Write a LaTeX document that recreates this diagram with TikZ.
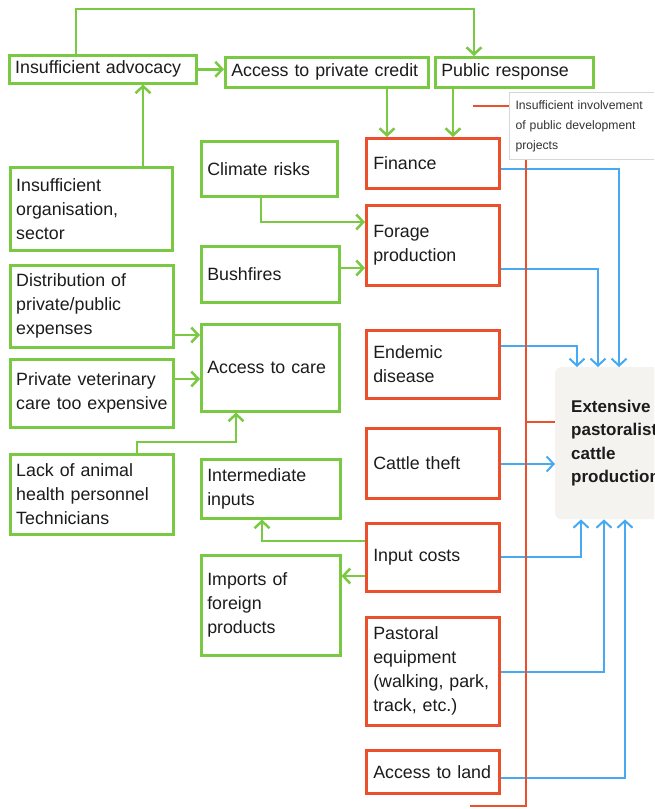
\documentclass[tikz,border=0pt]{standalone}
\usepackage{fontspec}
\setmainfont{Liberation Sans}
\usetikzlibrary{arrows.meta}
\definecolor{grn}{HTML}{7AC943}
\definecolor{org}{HTML}{EB4F2C}
\definecolor{blu}{HTML}{46A9F2}
\definecolor{txt}{HTML}{1C1C1C}
\definecolor{extfill}{HTML}{F4F3F0}
\definecolor{notegray}{HTML}{D6D6D6}
\begin{document}
\begin{tikzpicture}[x=1pt,y=-1pt,
  basebox/.style={anchor=north west, inner xsep=6pt, inner ysep=0pt, align=left,
    font=\fontsize{17.8}{24}\selectfont, text=txt, fill=white, line width=2.5pt,
    execute at begin node={\hyphenpenalty=10000\exhyphenpenalty=10000}},
  gbox/.style={basebox, draw=grn},
  rbox/.style={basebox, draw=org, inner xsep=7pt, text width=119pt},
  garr/.style={draw=grn, line width=2.5pt, -{Straight Barb[length=7pt,width=15pt]}},
  barr/.style={draw=blu, line width=2pt, -{Straight Barb[length=7pt,width=15pt]}},
  oline/.style={draw=org, line width=2.5pt},
]
\useasboundingbox (0,0) rectangle (654,809);
\clip (0,0) rectangle (654,809);

% green boxes
\node[gbox, text width=175pt, minimum height=28pt] (adv) at (8,54) {Insufficient advocacy};
\node[gbox, text width=191pt, minimum height=30pt] (credit) at (224,56) {Access to private credit};
\node[gbox, text width=146pt, minimum height=30pt] (pub) at (434,56) {Public response};
\node[gbox, text width=150pt, minimum height=83pt] (org) at (9,166) {Insufficient\\organisation,\\sector};
\node[gbox, text width=151pt, minimum height=82pt] (dist) at (9,264) {Distribution of\\private/public\\expenses};
\node[gbox, text width=151pt, minimum height=68pt] (vet) at (9,358) {\mbox{Private veterinary}\\\mbox{care too expensive}};
\node[gbox, text width=151pt, minimum height=80pt] (lack) at (9,453) {Lack of animal\\health personnel\\Technicians};
\node[gbox, text width=124pt, minimum height=55pt] (clim) at (200,140) {Climate risks};
\node[gbox, text width=126pt, minimum height=56pt] (bush) at (200,245) {Bushfires};
\node[gbox, text width=126pt, minimum height=87pt] (care) at (200,323) {Access to care};
\node[gbox, text width=127pt, minimum height=59pt] (inter) at (200,458) {Intermediate\\inputs};
\node[gbox, text width=127pt, minimum height=100pt] (imp) at (200,554) {Imports of\\foreign\\products};

% red boxes
\node[rbox, minimum height=50pt] (fin) at (365,137) {Finance};
\node[rbox, minimum height=80pt] (forage) at (365,204) {Forage\\production};
\node[rbox, minimum height=68pt] (endem) at (365,329) {Endemic\\disease};
\node[rbox, minimum height=70pt] (theft) at (365,427) {Cattle theft};
\node[rbox, minimum height=68pt] (input) at (365,522) {Input costs};
\node[rbox, minimum height=108pt] (pastoral) at (365,616) {Pastoral\\equipment\\(walking, park,\\track, etc.)};
\node[rbox, minimum height=43pt] (land) at (365,749) {Access to land};

% central outcome (cut by the right edge, as in the reference)
\node[anchor=north west, fill=extfill, rounded corners=6pt, minimum height=152pt,
  text width=120pt, inner xsep=16pt, inner ysep=0pt, align=left,
  font=\bfseries\fontsize{17}{23.5}\selectfont, text=txt] (ext) at (555,367)
  {Extensive\\pastoralist\\cattle\\production};

% green connectors
\draw[garr] (76,0 |- adv.north) -- (76,9) -- (474,9) -- (474,0 |- pub.north);
\draw[garr] (adv.east) -- (adv.east -| credit.west);
\draw[garr] (143,0 |- org.north) -- (143,0 |- adv.south);
\draw[garr] (387,0 |- credit.south) -- (387,0 |- fin.north);
\draw[garr] (453,0 |- pub.south) -- (453,0 |- fin.north);
\draw[garr] (261,0 |- clim.south) -- (261,222) -- (forage.west |- 0,222);
\draw[garr] (bush.east |- 0,268) -- (forage.west |- 0,268);
\draw[garr] (dist.east |- 0,335) -- (care.west |- 0,335);
\draw[garr] (vet.east |- 0,379) -- (care.west |- 0,379);
\draw[garr] (137,0 |- lack.north) -- (137,442) -- (236,442) -- (236,0 |- care.south);
\draw[garr] (input.west |- 0,541) -- (262,541) -- (262,0 |- inter.south);
\draw[garr] (input.west |- 0,576) -- (imp.east |- 0,576);

% blue connectors
\draw[barr] (fin.east |- 0,169) -- (619,169) -- (619,0 |- ext.north);
\draw[barr] (forage.east |- 0,269) -- (598,269) -- (598,0 |- ext.north);
\draw[barr] (endem.east |- 0,346) -- (577,346) -- (577,0 |- ext.north);
\draw[barr] (theft.east |- 0,464) -- (ext.west |- 0,464);
\draw[barr] (input.east |- 0,557) -- (581,557) -- (581,0 |- ext.south);
\draw[barr] (pastoral.east |- 0,672) -- (604,672) -- (604,0 |- ext.south);
\draw[barr] (land.east |- 0,778) -- (625,778) -- (625,0 |- ext.south);

% orange bracket
\coordinate (otop) at (473,106);
\coordinate (obot) at (470,806);
\draw[oline] (otop) -- (526,106) -- (526,806) -- (obot);
\draw[oline] (526,422) -- (ext.west |- 0,422);

% note
\node[anchor=north west, fill=white, draw=notegray, line width=1pt, inner xsep=6pt,
  inner ysep=0pt, minimum height=67pt, text width=140pt, align=left,
  font=\fontsize{12.2}{20}\selectfont, text=txt!90] (note) at (509,92)
  {Insufficient involvement\\of public development\\projects};
\end{tikzpicture}
\end{document}
